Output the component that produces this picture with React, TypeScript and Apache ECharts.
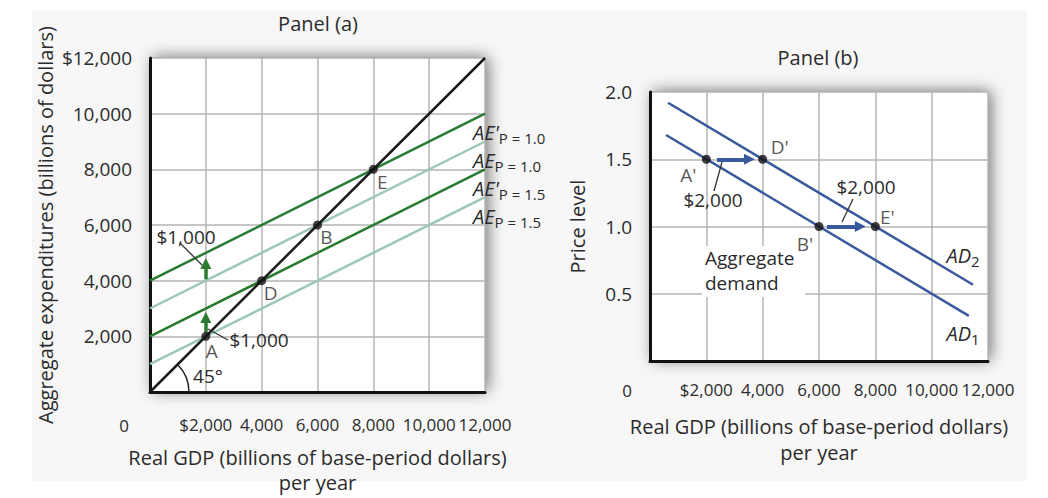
import React, { useEffect, useRef } from 'react';
import * as echarts from 'echarts';

// ---------- data ----------
const gdpTickValues = [0, 2000, 4000, 6000, 8000, 10000, 12000];
const gdpTickLabels = ['', '$2,000', '4,000', '6,000', '8,000', '10,000', '12,000'];
const aeTickLabels = ['', '2,000', '4,000', '6,000', '8,000', '10,000', '$12,000'];
const priceTickValues = [0, 0.5, 1.0, 1.5, 2.0];
const priceTickLabels = ['', '0.5', '1.0', '1.5', '2.0'];

// Panel (a)
const line45 = [[0, 0], [12000, 12000]];
const aeP10Shifted = [[0, 4000], [12000, 10000]];
const aeP10 = [[0, 3000], [12000, 9000]];
const aeP15Shifted = [[0, 2000], [12000, 8000]];
const aeP15 = [[0, 1000], [12000, 7000]];
const panelAPoints = [[2000, 2000], [4000, 4000], [6000, 6000], [8000, 8000]];
const panelANames = ['A', 'D', 'B', 'E'];
const panelAArrows = [
  [[2000, 2150], [2000, 2680]],
  [[2000, 4050], [2000, 4620]],
];

// Panel (b)
const ad1 = [[570, 1.68], [11320, 0.335]];
const ad2 = [[640, 1.92], [11470, 0.567]];
const panelBPoints = [[2000, 1.5], [4000, 1.5], [6000, 1.0], [8000, 1.0]];
const panelBNames = ["A'", "D'", "B'", "E'"];
const panelBArrows = [
  [[2380, 1.5], [3530, 1.5]],
  [[6280, 1.0], [7470, 1.0]],
];

// ---------- styles ----------
const FONT = '"Open Sans", sans-serif';
const TEXT = '#2b2b2b';
const GRID_LINE = '#b4b4b4';
const DARK_GREEN = '#2a7a30';
const LIGHT_GREEN = '#9cc6b6';
const BLUE = '#3a5a9e';

const labelOffsetsA = [[6, 15], [9, 12], [9, 12], [9, 13]];
const labelOffsetsB = [[-18, 16], [17, -12], [-14, 17], [12, -10]];

function tickFormatter(values: number[], labels: string[]) {
  return (v: number) => {
    const i = values.findIndex((t) => Math.abs(t - v) < 1e-9);
    return i >= 0 ? labels[i] : '';
  };
}

function buildOption() {
  const gridCommon = {
    show: true,
    backgroundColor: '#fff',
    borderWidth: 0,
    shadowBlur: 16,
    shadowColor: 'rgba(0,0,0,0.55)',
    shadowOffsetX: 3,
    shadowOffsetY: -1,
    containLabel: false,
    outerBoundsMode: 'none',
  };
  const axisLine = { show: true, onZero: false, lineStyle: { color: '#111', width: 3 } };
  const splitLine = { show: true, lineStyle: { color: GRID_LINE, width: 1.5 } };
  const axisLabelBase = {
    color: TEXT,
    fontFamily: FONT,
    fontSize: 19,
    showMinLabel: true,
    showMaxLabel: true,
    hideOverlap: false,
  };
  const nameStyle = { color: TEXT, fontFamily: FONT, fontSize: 20, lineHeight: 25 };

  const lineSeries = (data: number[][], color: string, width: number, gi: number, z: number) => ({
    type: 'line',
    xAxisIndex: gi,
    yAxisIndex: gi,
    data,
    symbol: 'none',
    showSymbol: false,
    lineStyle: { color, width },
    silent: true,
    z,
  });

  const pointSeries = (pts: number[][], names: string[], offsets: number[][], gi: number) => ({
    type: 'scatter',
    xAxisIndex: gi,
    yAxisIndex: gi,
    symbolSize: 9,
    itemStyle: { color: '#111' },
    silent: true,
    z: 6,
    data: pts.map((p, i) => ({
      value: p,
      name: names[i],
      label: {
        show: true,
        position: 'inside',
        formatter: names[i],
        offset: offsets[i],
        color: TEXT,
        fontFamily: FONT,
        fontSize: 19,
        lineHeight: 20,
        textBorderWidth: 0,
      },
    })),
  });

  const arrowSeries = (arrows: number[][][], color: string, width: number, size: number, gi: number) => ({
    type: 'lines',
    coordinateSystem: 'cartesian2d',
    xAxisIndex: gi,
    yAxisIndex: gi,
    symbol: ['none', 'triangle'],
    symbolSize: size,
    lineStyle: { color, width, opacity: 1, curveness: 0 },
    silent: true,
    z: 5,
    data: arrows.map((c) => ({ coords: c })),
  });

  const txt = (text: string, x: number, y: number, align = 'center', extra: any = {}) => ({
    type: 'text',
    x,
    y,
    z: 10,
    silent: true,
    style: {
      text,
      fill: TEXT,
      fontFamily: FONT,
      fontSize: 19,
      lineHeight: 20,
      align,
      verticalAlign: 'middle',
      ...extra,
    },
  });

  const seg = (x1: number, y1: number, x2: number, y2: number) => ({
    type: 'line',
    z: 10,
    silent: true,
    shape: { x1, y1, x2, y2 },
    style: { stroke: '#333', lineWidth: 1.3 },
  });

  const aeRich = {
    a: { fontSize: 20, fontStyle: 'italic', fontFamily: FONT, fill: TEXT, lineHeight: 26 },
    s: { fontSize: 15, fontFamily: FONT, fill: TEXT, lineHeight: 15, verticalAlign: 'bottom' },
  };
  const aeLabel = (text: string, x: number, y: number, align = 'left') => ({
    type: 'text',
    x,
    y,
    z: 10,
    silent: true,
    style: { text, rich: aeRich, align, verticalAlign: 'middle' },
  });

  return {
    animation: false,
    backgroundColor: '#fff',
    grid: [
      { ...gridCommon, left: 150, top: 58, width: 335, height: 334 },
      { ...gridCommon, left: 650, top: 92, width: 338, height: 269 },
    ],
    xAxis: [
      {
        type: 'value',
        gridIndex: 0,
        min: 0,
        max: 12000,
        interval: 2000,
        axisLine,
        axisTick: { show: false },
        splitLine,
        axisLabel: { ...axisLabelBase, fontSize: 17, margin: 24, formatter: tickFormatter(gdpTickValues, gdpTickLabels) },
        name: 'Real GDP (billions of base-period dollars)\nper year',
        nameLocation: 'middle',
        nameGap: 53,
        nameTextStyle: nameStyle,
      },
      {
        type: 'value',
        gridIndex: 1,
        min: 0,
        max: 12000,
        interval: 2000,
        axisLine,
        axisTick: { show: false },
        splitLine,
        axisLabel: { ...axisLabelBase, fontSize: 17, margin: 20, formatter: tickFormatter(gdpTickValues, gdpTickLabels) },
        name: 'Real GDP (billions of base-period dollars)\nper year',
        nameLocation: 'middle',
        nameGap: 52,
        nameTextStyle: { ...nameStyle, lineHeight: 26 },
      },
    ],
    yAxis: [
      {
        type: 'value',
        gridIndex: 0,
        min: 0,
        max: 12000,
        interval: 2000,
        axisLine,
        axisTick: { show: false },
        splitLine,
        axisLabel: { ...axisLabelBase, margin: 18, formatter: tickFormatter(gdpTickValues, aeTickLabels) },
        name: 'Aggregate expenditures (billions of dollars)',
        nameLocation: 'middle',
        nameGap: 95,
        nameTextStyle: { color: TEXT, fontFamily: FONT, fontSize: 20 },
      },
      {
        type: 'value',
        gridIndex: 1,
        min: 0,
        max: 2,
        interval: 0.5,
        axisLine,
        axisTick: { show: false },
        splitLine,
        axisLabel: { ...axisLabelBase, margin: 18, formatter: tickFormatter(priceTickValues, priceTickLabels) },
        name: 'Price level',
        nameLocation: 'middle',
        nameGap: 63,
        nameTextStyle: { color: TEXT, fontFamily: FONT, fontSize: 20 },
      },
    ],
    series: [
      lineSeries(aeP15, LIGHT_GREEN, 2.5, 0, 2),
      lineSeries(aeP10, LIGHT_GREEN, 2.5, 0, 2),
      lineSeries(aeP15Shifted, DARK_GREEN, 2.5, 0, 3),
      lineSeries(aeP10Shifted, DARK_GREEN, 2.5, 0, 3),
      lineSeries(line45, '#1a1a1a', 2.5, 0, 4),
      arrowSeries(panelAArrows, DARK_GREEN, 3.5, 11, 0),
      pointSeries(panelAPoints, panelANames, labelOffsetsA, 0),
      lineSeries(ad1, BLUE, 2.5, 1, 3),
      lineSeries(ad2, BLUE, 2.5, 1, 3),
      arrowSeries(panelBArrows, BLUE, 4, 11, 1),
      pointSeries(panelBPoints, panelBNames, labelOffsetsB, 1),
    ],
    graphic: [
      {
        type: 'rect',
        z: -100,
        silent: true,
        shape: { x: 32, y: 10, width: 995, height: 471 },
        style: { fill: '#f7f7f7' },
      },
      txt('Panel (a)', 318, 23, 'center', { fontSize: 20 }),
      txt('Panel (b)', 818, 57, 'center', { fontSize: 20 }),
      txt('0', 124, 425, 'center', { fontSize: 17 }),
      txt('0', 627, 390, 'center', { fontSize: 17 }),
      // panel (a) annotations
      txt('$1,000', 186, 237),
      seg(180, 243, 202, 265),
      txt('$1,000', 259, 340),
      seg(208, 329, 228, 340),
      txt('45°', 208, 376),
      {
        type: 'arc',
        z: 10,
        silent: true,
        shape: { cx: 150, cy: 392, r: 39, startAngle: -Math.PI / 4, endAngle: 0, clockwise: true },
        style: { stroke: '#222', lineWidth: 1.5, fill: 'none' },
      },
      aeLabel("{a|AE'}{s|P = 1.0}", 473, 132),
      aeLabel('{a|AE}{s|P = 1.0}', 473, 160),
      aeLabel("{a|AE'}{s|P = 1.5}", 473, 188),
      aeLabel('{a|AE}{s|P = 1.5}', 473, 216),
      // panel (b) annotations
      txt('$2,000', 713, 200),
      seg(722, 162, 714, 191),
      txt('$2,000', 866, 187),
      seg(853, 199, 842, 222),
      {
        type: 'rect',
        z: 1,
        silent: true,
        shape: { x: 702, y: 246, width: 103, height: 51 },
        style: { fill: '#fff' },
      },
      txt('Aggregate', 705, 258, 'left'),
      txt('demand', 705, 283, 'left'),
      aeLabel('{a|AD}{s|2}', 963, 255, 'center'),
      aeLabel('{a|AD}{s|1}', 963, 333, 'center'),
    ],
  };
}

export default function App() {
  const ref = useRef<HTMLDivElement>(null);
  useEffect(() => {
    if (!ref.current) return;
    const chart = echarts.init(ref.current, undefined, { renderer: 'svg' });
    chart.setOption(buildOption() as any);
    return () => chart.dispose();
  }, []);
  return (
    <div
      ref={ref}
      style={{ position: 'fixed', left: 0, top: 0, width: 1048, height: 498, background: '#fff' }}
    />
  );
}
